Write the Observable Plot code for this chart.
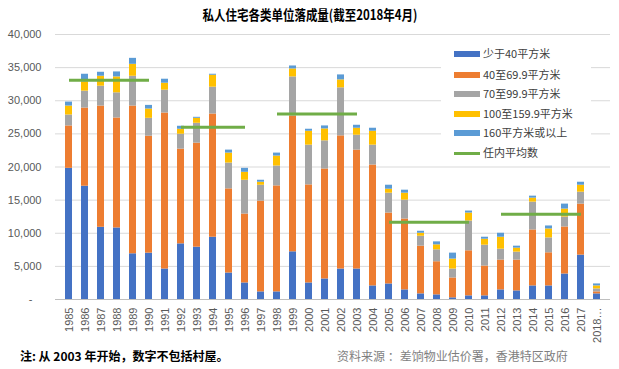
<!DOCTYPE html>
<html>
<head>
<meta charset="utf-8">
<script src="https://cdn.jsdelivr.net/npm/d3@7"></script>
<script src="https://cdn.jsdelivr.net/npm/@observablehq/plot@0.6"></script>
<style>
  html, body { margin: 0; padding: 0; background: #fff; }
  #wrap { position: relative; width: 619px; height: 369px; overflow: hidden; font-family: "Noto Sans CJK SC", "Noto Sans", sans-serif; }
  #title { position: absolute; left: 0; width: 619px; top: 4px; text-align: center; font-size: 14px; font-weight: bold; color: #000; }
  #title span { display: inline-block; transform: scaleX(0.82); transform-origin: center; }
  #legend { position: absolute; left: 441px; top: 38px; width: 150px; height: 122px; background: #fff; }
  .li { position: absolute; left: 13px; height: 14px; font-size: 11px; color: #404040; white-space: nowrap; }
  .sw { position: absolute; left: 0; width: 26px; }
  .lt { position: absolute; left: 29px; top: -1px; line-height: 14px; }
  #note { position: absolute; left: 20px; top: 347px; font-size: 12px; font-weight: bold; color: #000; white-space: nowrap; }
  #src { position: absolute; left: 337px; top: 347px; font-size: 12px; color: #7f7f7f; white-space: nowrap; }
</style>
</head>
<body>
<div id="wrap"></div>
<script>
const years = ["1985","1986","1987","1988","1989","1990","1991","1992","1993","1994","1995","1996","1997","1998","1999","2000","2001","2002","2003","2004","2005","2006","2007","2008","2009","2010","2011","2012","2013","2014","2015","2016","2017","2018"];
const tickLabels = ["1985","1986","1987","1988","1989","1990","1991","1992","1993","1994","1995","1996","1997","1998","1999","2000","2001","2002","2003","2004","2005","2006","2007","2008","2009","2010","2011","2012","2013","2014","2015","2016","2017","2018…"];
const seriesNames = ["少于40平方米","40至69.9平方米","70至99.9平方米","100至159.9平方米","160平方米或以上"];
const seriesColors = ["#4472C4","#ED7D31","#A5A5A5","#FFC000","#5B9BD5"];
const lineName = "任内平均数";
const lineColor = "#70AD47";

const under40   = [19800,17100,10900,10800,6900,7000,4600,8400,7900,9400,4000,2500,1150,1150,7200,2500,3100,4600,4600,2050,2350,1450,850,700,250,550,550,1450,1300,2050,2050,3850,6700,850];
const s40to69   = [6400,11800,18300,16600,22300,17650,23550,14300,15700,18600,12700,10400,13700,16000,20500,14800,16600,20100,17950,18250,10700,10700,7200,5000,3000,6800,4500,4500,4650,8450,5000,7100,7700,300];
const s70to99   = [1650,2550,3000,3800,4500,2700,3450,2250,3000,4050,3900,5100,2400,3000,5900,6000,4250,7250,2250,3000,3000,2850,1500,1800,1350,4500,3150,1650,1200,4200,2250,1500,1800,450];
const s100to159 = [1350,1400,1500,2400,1800,1400,1050,750,750,1800,1500,1200,450,1500,1200,2100,1800,1200,1050,2100,600,1050,450,750,1500,1200,900,1800,600,600,1350,1200,1050,450];
const s160plus  = [600,1150,600,750,900,550,600,450,150,150,450,600,300,450,450,300,450,750,450,450,600,450,300,450,900,300,300,600,300,300,450,750,450,300];

// term averages: start year, end year, value
const termStart = ["1985","1992","1998","2005","2012"];
const termEnd   = ["1990","1996","2003","2010","2017"];
const termAvg   = [33100, 26000, 28000, 11650, 12850];

const yTicks = [0,5000,10000,15000,20000,25000,30000,35000,40000];

const seriesValues = [under40, s40to69, s70to99, s100to159, s160plus];
const barData = [];
years.forEach((y, i) => {
  seriesNames.forEach((s, k) => barData.push({year: y, series: s, value: seriesValues[k][i]}));
});
const lineData = [];
termStart.forEach((s, t) => {
  const a = years.indexOf(s), b = years.indexOf(termEnd[t]);
  for (let i = a; i <= b; i++) lineData.push({year: years[i], term: t, value: termAvg[t]});
});

const chart = Plot.plot({
  width: 619,
  height: 369,
  marginTop: 34,
  marginBottom: 70,
  marginLeft: 55,
  marginRight: 9,
  style: {fontFamily: "Liberation Sans, Arial, sans-serif", background: "#fff"},
  x: {domain: years, paddingInner: 0.55, paddingOuter: 0.265, label: null},
  y: {domain: [0, 40000], label: null},
  color: {domain: seriesNames, range: seriesColors},
  marks: [
    Plot.gridY(yTicks, {stroke: "#d9d9d9", strokeOpacity: 1}),
    Plot.axisY(yTicks, {tickSize: 0, tickPadding: 14, fontSize: 11, fill: "#595959",
      tickFormat: d => d === 0 ? "-\u00a0\u00a0\u00a0" : d3.format(",")(d), label: null}),
    Plot.axisX({tickSize: 0, tickPadding: 8, tickRotate: -90, fontSize: 11, fill: "#595959",
      tickFormat: d => tickLabels[years.indexOf(d)], label: null}),
    Plot.barY(barData, {x: "year", y: "value", fill: "series"}),
    Plot.ruleY([0], {stroke: "#bfbfbf"}),
    Plot.line(lineData, {x: "year", y: "value", z: "term", stroke: lineColor, strokeWidth: 3, strokeLinecap: "butt"})
  ]
});

const wrap = document.getElementById("wrap");
wrap.appendChild(chart);

const title = document.createElement("div");
title.id = "title";
title.innerHTML = "<span>私人住宅各类单位落成量(截至2018年4月)</span>";
wrap.appendChild(title);

const legend = document.createElement("div");
legend.id = "legend";
const rowTops = [9, 30, 49, 69, 88, 108];
seriesNames.concat([lineName]).forEach((name, k) => {
  const li = document.createElement("div");
  li.className = "li";
  li.style.top = rowTops[k] + "px";
  const sw = document.createElement("div");
  sw.className = "sw";
  if (k < seriesNames.length) {
    sw.style.top = "4px"; sw.style.height = "6px"; sw.style.background = seriesColors[k];
  } else {
    sw.style.top = "6px"; sw.style.height = "3px"; sw.style.background = lineColor;
  }
  const lt = document.createElement("div");
  lt.className = "lt";
  lt.textContent = name;
  li.appendChild(sw); li.appendChild(lt);
  legend.appendChild(li);
});
wrap.appendChild(legend);

const note = document.createElement("div");
note.id = "note";
note.textContent = "注: 从 2003 年开始，数字不包括村屋。";
wrap.appendChild(note);

const src = document.createElement("div");
src.id = "src";
src.textContent = "资料来源 ：差饷物业估价署，香港特区政府";
wrap.appendChild(src);
</script>
</body>
</html>
